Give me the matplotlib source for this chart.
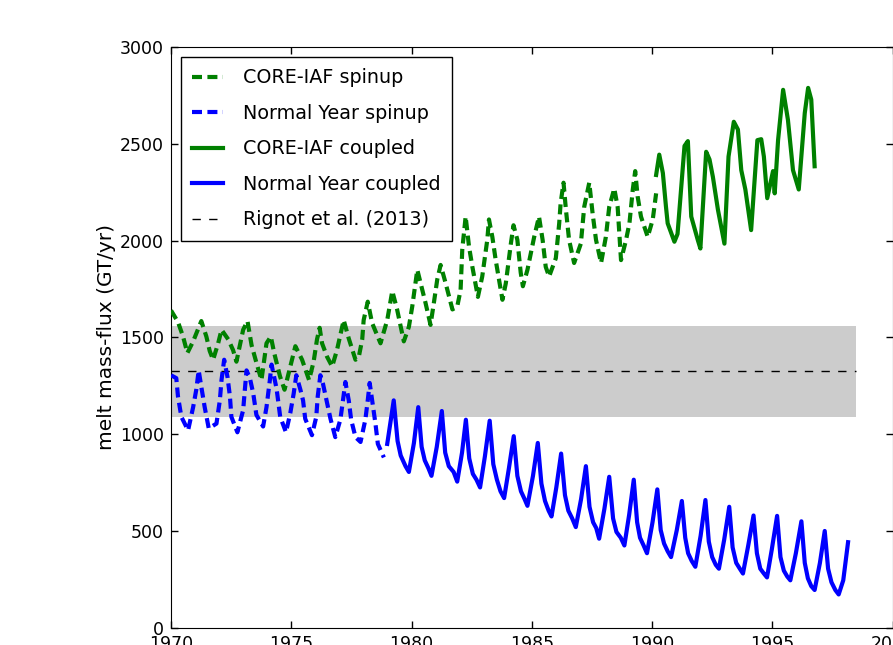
import matplotlib
matplotlib.use("Agg")
import matplotlib.pyplot as plt
import numpy as np

# CORE-IAF spinup (dashed green)
core_spin_t = [1970.0, 1970.29, 1970.5, 1970.68, 1970.92, 1971.26, 1971.47, 1971.61, 1971.75, 1971.96,
               1972.1, 1972.38, 1972.58, 1972.72, 1973.0, 1973.18, 1973.35, 1973.55, 1973.76, 1973.97,
               1974.15, 1974.29, 1974.53, 1974.72, 1974.96, 1975.17, 1975.45, 1975.74, 1975.93, 1976.07,
               1976.18, 1976.28, 1976.49, 1976.7, 1976.9, 1977.18, 1977.39, 1977.67, 1977.8, 1977.95,
               1978.01, 1978.18, 1978.36, 1978.71, 1978.99, 1979.2, 1979.4, 1979.68, 1979.89, 1980.03,
               1980.24, 1980.45, 1980.58, 1980.79, 1980.93, 1981.07, 1981.21, 1981.42, 1981.7, 1981.9,
               1982.04, 1982.11, 1982.25, 1982.39, 1982.53, 1982.76, 1982.94, 1983.15, 1983.22, 1983.36,
               1983.5, 1983.78, 1983.92, 1984.13, 1984.24, 1984.4, 1984.54, 1984.63, 1984.82, 1985.1,
               1985.3, 1985.45, 1985.58, 1985.72, 1986.0, 1986.14, 1986.2, 1986.32, 1986.42, 1986.55,
               1986.76, 1987.04, 1987.18, 1987.39, 1987.53, 1987.67, 1987.88, 1988.08, 1988.22, 1988.43,
               1988.57, 1988.71, 1988.92, 1989.06, 1989.2, 1989.3, 1989.4, 1989.54, 1989.82, 1990.03,
               1990.17]
core_spin_v = [1640, 1580, 1505, 1420, 1480, 1585, 1505, 1430, 1385, 1470,
               1540, 1490, 1435, 1375, 1540, 1585, 1460, 1370, 1280, 1470,
               1505, 1420, 1300, 1230, 1350, 1455, 1385, 1280, 1375, 1490,
               1550, 1470, 1400, 1350, 1435, 1590, 1495, 1385, 1395, 1490,
               1590, 1685, 1575, 1470, 1590, 1740, 1645, 1480, 1555, 1660,
               1850, 1745, 1680, 1565, 1680, 1800, 1875, 1780, 1645, 1660,
               1745, 1955, 2125, 1970, 1865, 1710, 1815, 2005, 2110, 2020,
               1900, 1695, 1780, 1985, 2080, 2005, 1835, 1765, 1850, 2020,
               2125, 2005, 1865, 1815, 1910, 2090, 2195, 2300, 2160, 2005,
               1885, 1985, 2175, 2300, 2140, 2005, 1885, 2020, 2175, 2270,
               2175, 1900, 2005, 2090, 2265, 2360, 2230, 2125, 2020, 2110,
               2245]

# Normal Year spinup (dashed blue)
ny_spin_t = [1970.0, 1970.22, 1970.29, 1970.43, 1970.71, 1970.92, 1971.05, 1971.15, 1971.26, 1971.4,
             1971.57, 1971.89, 1972.03, 1972.1, 1972.21, 1972.35, 1972.45, 1972.51, 1972.76, 1973.0,
             1973.07, 1973.14, 1973.28, 1973.42, 1973.55, 1973.83, 1973.97, 1974.11, 1974.18, 1974.39,
             1974.54, 1974.78, 1974.96, 1975.1, 1975.21, 1975.38, 1975.49, 1975.58, 1975.86, 1976.04,
             1976.1, 1976.21, 1976.32, 1976.63, 1976.83, 1977.04, 1977.15, 1977.25, 1977.39, 1977.49,
             1977.67, 1977.88, 1978.08, 1978.18, 1978.26, 1978.5, 1978.6, 1978.85]
ny_spin_v = [1305, 1290, 1195, 1090, 1020, 1140, 1230, 1330, 1245, 1140,
             1030, 1055, 1175, 1280, 1385, 1295, 1195, 1090, 1010, 1125,
             1230, 1330, 1290, 1210, 1100, 1040, 1140, 1280, 1360, 1235,
             1090, 1010, 1110, 1210, 1305, 1230, 1175, 1080, 995, 1090,
             1195, 1305, 1260, 1080, 985, 1075, 1175, 1270, 1175, 1075,
             985, 960, 1075, 1175, 1265, 1055, 950, 880]

# CORE-IAF coupled (solid green)
core_cpl_t = [1990.17, 1990.3, 1990.45, 1990.58, 1990.65, 1990.93, 1991.06, 1991.35, 1991.49, 1991.63,
              1991.9, 1992.01, 1992.25, 1992.39, 1992.53, 1992.74, 1993.01, 1993.18, 1993.4, 1993.57,
              1993.71, 1993.88, 1994.12, 1994.38, 1994.54, 1994.65, 1994.79, 1995.03, 1995.1, 1995.24,
              1995.45, 1995.65, 1995.86, 1996.1, 1996.35, 1996.49, 1996.62, 1996.76]
core_cpl_v = [2340, 2445, 2350, 2175, 2090, 1995, 2035, 2490, 2515, 2125,
              2005, 1960, 2460, 2420, 2330, 2160, 1985, 2435, 2615, 2575,
              2365, 2265, 2055, 2520, 2525, 2435, 2220, 2360, 2245, 2520,
              2780, 2625, 2365, 2265, 2660, 2790, 2730, 2385]

# Normal Year coupled (solid blue)
ny_cpl_t = [1978.99, 1979.26, 1979.42, 1979.55, 1979.75, 1979.89,
            1980.1, 1980.28, 1980.42, 1980.55, 1980.7, 1980.83,
            1981.05, 1981.26, 1981.4, 1981.55, 1981.75, 1981.9,
            1982.1, 1982.26, 1982.4, 1982.55, 1982.7, 1982.85,
            1983.05, 1983.25, 1983.4, 1983.55, 1983.7, 1983.85,
            1984.05, 1984.25, 1984.4, 1984.55, 1984.7, 1984.82,
            1985.05, 1985.25, 1985.4, 1985.55, 1985.7, 1985.82,
            1986.02, 1986.22, 1986.38, 1986.52, 1986.68, 1986.83,
            1987.05, 1987.25, 1987.4, 1987.55, 1987.68, 1987.8,
            1988.02, 1988.22, 1988.38, 1988.52, 1988.7, 1988.85,
            1989.05, 1989.24, 1989.38, 1989.5, 1989.65, 1989.79,
            1990.02, 1990.22, 1990.36, 1990.5, 1990.65, 1990.79,
            1991.03, 1991.24, 1991.38, 1991.5, 1991.65, 1991.8,
            1992.02, 1992.22, 1992.36, 1992.5, 1992.65, 1992.78,
            1993.0, 1993.21, 1993.35, 1993.5, 1993.65, 1993.78,
            1994.0, 1994.22, 1994.36, 1994.5, 1994.65, 1994.78,
            1994.98, 1995.2, 1995.34, 1995.48, 1995.62, 1995.75,
            1995.98, 1996.21, 1996.35, 1996.48, 1996.62, 1996.76,
            1996.98, 1997.18, 1997.32, 1997.46, 1997.62, 1997.76,
            1997.95, 1998.15]
ny_cpl_v = [950, 1175, 965, 890, 835, 805,
            955, 1140, 935, 865, 825, 785,
            935, 1120, 905, 835, 805, 755,
            905, 1075, 875, 795, 765, 725,
            885, 1070, 845, 765, 705, 670,
            825, 990, 785, 705, 665, 630,
            785, 955, 745, 655, 605, 575,
            725, 900, 685, 605, 565, 520,
            665, 835, 625, 545, 515, 460,
            615, 780, 565, 495, 465, 425,
            585, 765, 545, 465, 425, 385,
            545, 715, 505, 435, 395, 365,
            505, 655, 465, 385, 345, 315,
            475, 660, 445, 365, 325, 305,
            455, 625, 415, 335, 305, 280,
            425, 580, 385, 305, 280, 260,
            405, 578, 365, 295, 265, 245,
            385, 550, 335, 255, 215, 195,
            335, 500, 305, 235, 195, 172,
            245, 442]

# Rignot et al. (2013) estimate
rignot_t = [1970.0, 1998.5]
rignot_mean = 1325
rignot_err = 235

plt.rcParams['font.family'] = 'DejaVu Sans'
fig = plt.figure(figsize=(8.93, 6.45), dpi=100)
ax = fig.add_axes([0.1915, 0.0268, 0.808, 0.8999])

ax.fill_between(rignot_t, rignot_mean - rignot_err, rignot_mean + rignot_err,
                color='k', alpha=0.2, linewidth=0, zorder=1)

dash = (0, (2.4, 1.3))
ax.plot(core_spin_t, core_spin_v, color='g', linestyle=dash, linewidth=3, label='CORE-IAF spinup', zorder=3)
ax.plot(ny_spin_t, ny_spin_v, color='b', linestyle=dash, linewidth=3, label='Normal Year spinup', zorder=3)
ax.plot(core_cpl_t, core_cpl_v, color='g', linewidth=3, label='CORE-IAF coupled', zorder=3)
ax.plot(ny_cpl_t, ny_cpl_v, color='b', linewidth=3, label='Normal Year coupled', zorder=3)
ax.plot(rignot_t, [rignot_mean, rignot_mean], color='k', linestyle=(0, (6, 6)), linewidth=1,
        label='Rignot et al. (2013)', zorder=2)

ax.set_xlim(1970, 2000)
ax.set_ylim(0, 3000)
ax.set_xticks(np.arange(1970, 2001, 5))
ax.set_yticks(np.arange(0, 3001, 500))
ax.tick_params(direction='in', top=True, right=True, length=5, width=1, pad=5, labelsize=12.5)
ax.set_ylabel('melt mass-flux (GT/yr)', fontsize=14.5, labelpad=3)

leg = ax.legend(loc='upper left', fontsize=13.8, handlelength=1.6, handletextpad=1.05,
                labelspacing=0.86, borderpad=0.6, borderaxespad=0.5, fancybox=False)
leg.get_frame().set_edgecolor('k')
leg.get_frame().set_linewidth(1)
leg.get_frame().set_alpha(1)

fig.savefig('out.png', dpi=100)
